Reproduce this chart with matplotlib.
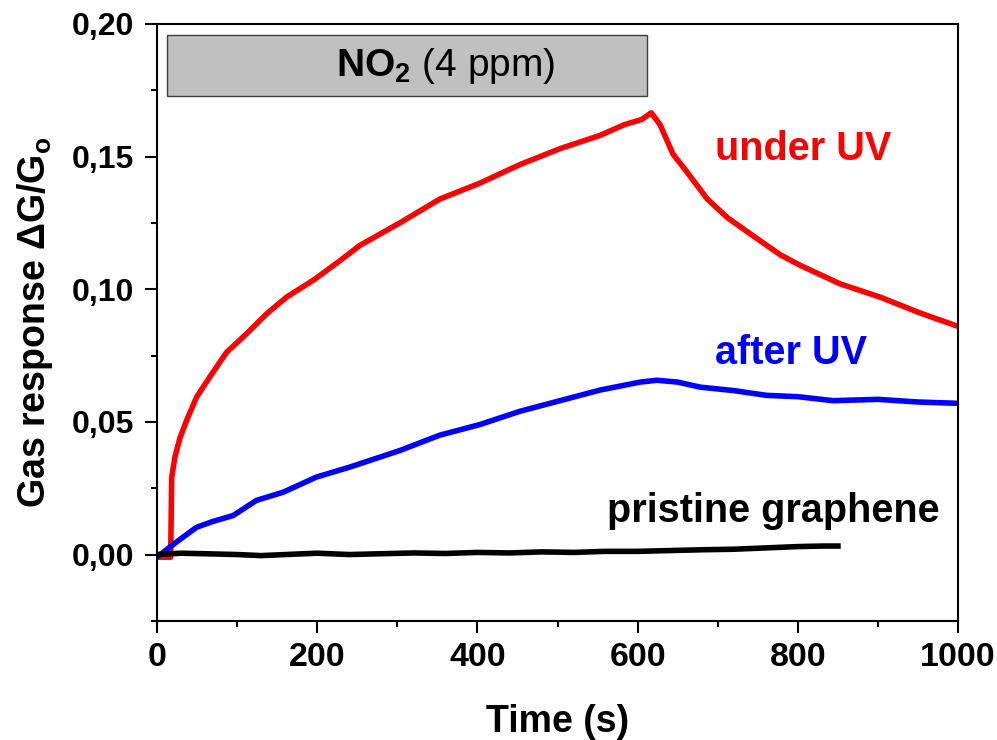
import matplotlib
matplotlib.use('Agg')
import matplotlib.pyplot as plt
from matplotlib.ticker import MultipleLocator, FuncFormatter
from matplotlib.patches import Rectangle

plt.rcParams['font.family'] = 'Liberation Sans'
plt.rcParams['font.weight'] = 'bold'
plt.rcParams['mathtext.fontset'] = 'custom'
plt.rcParams['mathtext.rm'] = 'Liberation Sans'
plt.rcParams['mathtext.bf'] = 'Liberation Sans:bold'

# under UV (red)
t_red = [0, 10, 17, 18.3, 22.5, 28.7, 37, 49.5, 66, 87, 112, 137, 162, 195, 225, 253,
         303, 353, 403, 453, 503, 553, 583, 605, 617, 628, 644, 662, 687, 712, 740,
         778, 803, 853, 903, 953, 1000]
y_red = [-0.001, -0.001, -0.001, 0.029, 0.037, 0.044, 0.0506, 0.0594, 0.067, 0.0763,
         0.0833, 0.0908, 0.0971, 0.1034, 0.110, 0.1165, 0.125, 0.134, 0.140, 0.147,
         0.153, 0.158, 0.162, 0.164, 0.1665, 0.162, 0.151, 0.144, 0.134, 0.127, 0.121,
         0.113, 0.109, 0.102, 0.097, 0.091, 0.086]

# after UV (blue)
t_blue = [0, 16, 30, 49.5, 70, 95, 124, 157.5, 199, 241, 303, 353, 403, 453, 503, 553,
          603, 624, 650, 678, 720, 761, 800, 844, 900, 950, 1000]
y_blue = [-0.001, 0.0028, 0.006, 0.0103, 0.0125, 0.0147, 0.0204, 0.0235, 0.0292, 0.033,
          0.0392, 0.045, 0.049, 0.054, 0.058, 0.062, 0.065, 0.0657, 0.065, 0.0631,
          0.0618, 0.060, 0.0595, 0.058, 0.0585, 0.0575, 0.057]

# pristine graphene (black)
t_blk = [0, 30, 60, 100, 130, 160, 200, 240, 280, 320, 360, 400, 440, 480, 520, 560,
         600, 640, 680, 720, 760, 800, 830, 850]
y_blk = [0.0, 0.0005, 0.0003, 0.0, -0.0004, 0.0, 0.0005, 0.0, 0.0003, 0.0006, 0.0004,
         0.0008, 0.0006, 0.001, 0.0008, 0.0012, 0.0012, 0.0015, 0.0018, 0.002, 0.0025,
         0.003, 0.0032, 0.0032]

fig = plt.figure(figsize=(9.97, 7.40), dpi=100)
ax = fig.add_axes([0.1575, 0.161, 0.8035, 0.8066])

ax.plot(t_red, y_red, color='#ff0000', lw=4, solid_joinstyle='round')
ax.plot(t_blue, y_blue, color='#0000ff', lw=4, solid_joinstyle='round')
ax.plot(t_blk, y_blk, color='black', lw=4, solid_joinstyle='round')

ax.add_patch(Rectangle((12, 0.1728), 600, 0.023, facecolor='#c0c0c0',
                       edgecolor='#404040', lw=1.0, zorder=3))
ax.text(360, 0.1843, r'$\mathbf{NO_2}$ (4 ppm)', fontsize=28, fontweight='normal',
        ha='center', va='center', zorder=4)

ax.text(697, 0.153, 'under UV', color='#ff0000', fontsize=28.5, va='center')
ax.text(697, 0.076, 'after UV', color='#0000ff', fontsize=28.5, va='center')
ax.text(562, 0.0166, 'pristine graphene', color='black', fontsize=28.5, va='center')

ax.set_xlim(0, 1000)
ax.set_ylim(-0.025, 0.20)
ax.xaxis.set_major_locator(MultipleLocator(200))
ax.xaxis.set_minor_locator(MultipleLocator(100))
ax.yaxis.set_major_locator(MultipleLocator(0.05))
ax.yaxis.set_minor_locator(MultipleLocator(0.025))
ax.yaxis.set_major_formatter(FuncFormatter(lambda v, p: f'{v:.2f}'.replace('.', ',')))
ax.tick_params(which='major', direction='out', length=8.5, width=1.5)
ax.tick_params(which='minor', direction='out', length=4, width=1.5)
ax.tick_params(axis='x', which='major', labelsize=24.5, pad=7)
ax.tick_params(axis='y', which='major', labelsize=23, pad=8)
for s in ax.spines.values():
    s.set_linewidth(1.5)

ax.set_xlabel('Time (s)', fontsize=27, fontweight='bold', labelpad=22)
ax.set_ylabel(r'Gas response ΔG/G$_\mathbf{o}$', fontsize=27, fontweight='bold', labelpad=12)

plt.savefig('out.png', dpi=100)
